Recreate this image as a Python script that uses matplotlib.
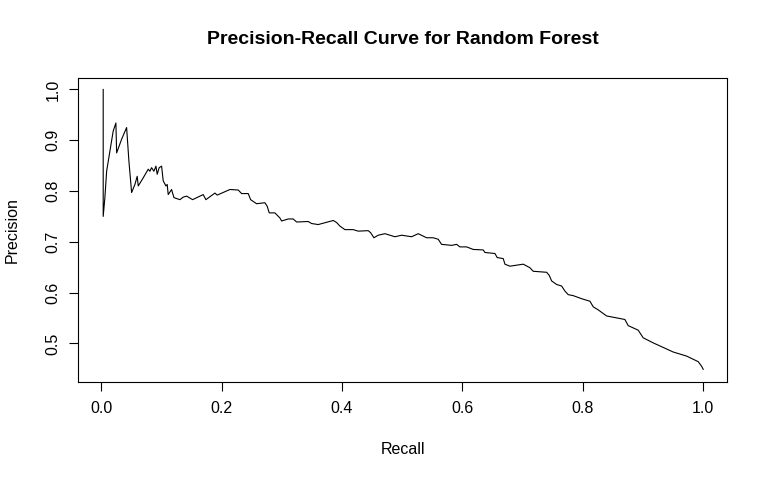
import matplotlib
matplotlib.use("Agg")
import matplotlib.pyplot as plt

# precision-recall points (recall, precision)
recall = [0.0033, 0.0033, 0.0061, 0.0090, 0.0145, 0.0199, 0.0244, 0.0256, 0.0339, 0.0422,
          0.0460, 0.0505, 0.0560, 0.0598, 0.0615, 0.0698, 0.0781, 0.0809, 0.0837, 0.0875,
          0.0909, 0.0930, 0.0963, 0.1003, 0.1030, 0.1075, 0.1096, 0.1113, 0.1169, 0.1208,
          0.1307, 0.1362, 0.1419, 0.1518, 0.1694, 0.1739, 0.1889, 0.1927, 0.2138, 0.2276,
          0.2332, 0.2442, 0.2482, 0.2581, 0.2719, 0.2757, 0.2791, 0.2885, 0.2968, 0.2997,
          0.3106, 0.3189, 0.3246, 0.3439, 0.3495, 0.3605, 0.3854, 0.3910, 0.3965, 0.4048,
          0.4186, 0.4269, 0.4435, 0.4475, 0.4530, 0.4601, 0.4713, 0.4879, 0.4990, 0.5156,
          0.5266, 0.5405, 0.5515, 0.5598, 0.5654, 0.5821, 0.5904, 0.5958, 0.6070, 0.6179,
          0.6346, 0.6374, 0.6540, 0.6578, 0.6678, 0.6706, 0.6789, 0.7010, 0.7121, 0.7176,
          0.7399, 0.7442, 0.7482, 0.7565, 0.7648, 0.7703, 0.7757, 0.7841, 0.7980, 0.8118,
          0.8173, 0.8256, 0.8395, 0.8616, 0.8699, 0.8754, 0.8920, 0.9003, 0.9169, 0.9336,
          0.9502, 0.9724, 0.9917, 0.9973, 1.0000]
precision = [1.000, 0.750, 0.787, 0.839, 0.879, 0.918, 0.934, 0.875, 0.902, 0.925,
             0.859, 0.797, 0.813, 0.829, 0.810, 0.826, 0.843, 0.839, 0.846, 0.839,
             0.849, 0.833, 0.846, 0.849, 0.820, 0.810, 0.813, 0.793, 0.803, 0.787,
             0.783, 0.788, 0.790, 0.783, 0.793, 0.783, 0.796, 0.792, 0.803, 0.802,
             0.795, 0.795, 0.783, 0.775, 0.777, 0.770, 0.757, 0.757, 0.747, 0.741,
             0.745, 0.745, 0.739, 0.740, 0.736, 0.734, 0.742, 0.738, 0.731, 0.724,
             0.724, 0.721, 0.722, 0.718, 0.708, 0.713, 0.716, 0.710, 0.713, 0.710,
             0.716, 0.708, 0.708, 0.705, 0.695, 0.693, 0.695, 0.690, 0.690, 0.685,
             0.684, 0.679, 0.677, 0.669, 0.667, 0.656, 0.652, 0.656, 0.649, 0.642,
             0.640, 0.634, 0.623, 0.616, 0.613, 0.603, 0.596, 0.594, 0.588, 0.583,
             0.572, 0.566, 0.554, 0.549, 0.547, 0.535, 0.526, 0.511, 0.501, 0.492,
             0.483, 0.475, 0.464, 0.455, 0.449]
x_ticks = [0.0, 0.2, 0.4, 0.6, 0.8, 1.0]
y_ticks = [0.5, 0.6, 0.7, 0.8, 0.9, 1.0]

plt.rcParams["font.family"] = ["Liberation Sans", "DejaVu Sans"]

fig = plt.figure(figsize=(7.68, 4.8), dpi=100)
ax = fig.add_axes([0.102, 0.2042, 0.845, 0.6327])
ax.plot(recall, precision, color="black", lw=0.8)

ax.set_xlim(-0.038, 1.040)
ax.set_ylim(0.424, 1.022)
ax.set_xticks(x_ticks)
ax.set_xticklabels([f"{v:.1f}" for v in x_ticks])
ax.set_yticks(y_ticks)
ax.set_yticklabels([f"{v:.1f}" for v in y_ticks], rotation=90, va="center")
ax.tick_params(direction="out", length=6.7, width=0.8, labelsize=11.5, pad=7)
ax.tick_params(axis="y", pad=6)
for s in ax.spines.values():
    s.set_linewidth(0.8)

fig.text(0.525, 0.917, "Precision-Recall Curve for Random Forest",
         ha="center", va="center", fontsize=14, fontweight="bold")
fig.text(0.525, 0.0625, "Recall", ha="center", va="center", fontsize=11.5)
fig.text(0.016, 0.521, "Precision", ha="center", va="center", fontsize=11.5, rotation=90)

fig.savefig("out.png", dpi=100)
